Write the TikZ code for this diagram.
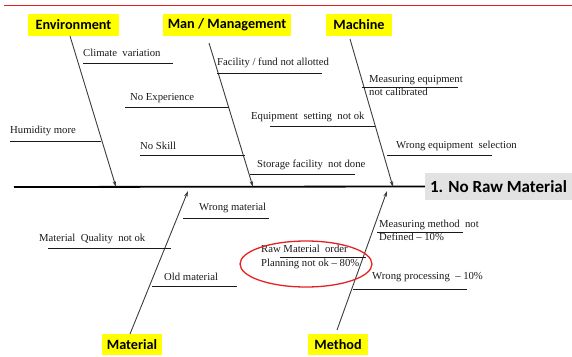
\documentclass[tikz,border=0pt]{standalone}
\usepackage{fontspec}
\setmainfont{Liberation Serif}
\newfontfamily\headfont{Carlito}
\usetikzlibrary{arrows.meta}
\definecolor{hdryellow}{HTML}{FFFF00}
\definecolor{titlegray}{HTML}{E2E2E2}
\definecolor{redline}{HTML}{E52222}
\definecolor{ink}{HTML}{1A1A1A}
\begin{document}
\begin{tikzpicture}[x=1pt,y=-1pt,
  header/.style={fill=hdryellow, font=\headfont\bfseries\fontsize{14.2}{16}\selectfont,
    text=black, inner sep=0pt, minimum height=22pt},
  cause/.style={font=\fontsize{10.7}{13.5}\selectfont, text=ink, inner sep=0pt,
    anchor=west, align=left},
  bone/.style={draw=ink!85, line width=0.9pt, -{Stealth[length=6pt,width=3.5pt]}},
  twig/.style={draw=ink, line width=0.8pt},
]
\useasboundingbox (0,0) rectangle (572,356);

% top rule
\draw[redline, line width=1pt] (4,5) -- (572,5);

% category headers
\node[header, minimum width=91pt]  (env)  at (73.5,25)  {Environment};
\node[header, minimum width=128pt] (man)  at (227,25)   {Man / Management};
\node[header, minimum width=66pt]  (mach) at (359,25)   {Machine};
\node[header, minimum width=60pt, minimum height=21pt] (mat)  at (132,344.5) {Material};
\node[header, minimum width=60pt, minimum height=21pt] (meth) at (338,344.5) {Method};

% effect
\node[fill=titlegray, minimum width=147pt, minimum height=27pt, inner sep=0pt,
      font=\headfont\bfseries\fontsize{17}{19}\selectfont, text=black]
      (effect) at (498.5,186.5) {1. No Raw Material};

% spine
\coordinate (tail) at (14,187);
\draw[line width=1.8pt] (tail) -- (effect.west);

% bone end points
\coordinate (envTop)  at (70,36);   \coordinate (envTip)  at (116,187);
\coordinate (manTop)  at (209,43);  \coordinate (manTip)  at (253,187);
\coordinate (machTop) at (350,39);  \coordinate (machTip) at (393,187);
\coordinate (matBot)  at (130,334); \coordinate (matTip)  at (188,191);
\coordinate (methBot) at (337,330); \coordinate (methTip) at (387,191);

\draw[bone] (envTop)  -- (envTip);
\draw[bone] (manTop)  -- (manTip);
\draw[bone] (machTop) -- (machTip);
\draw[bone] (matBot)  -- (matTip);
\draw[bone] (methBot) -- (methTip);

% Environment causes
\node[cause] (c1) at (83,53) {Climate\ \ variation};
\draw[twig] (83,63) -- (173,63);
\node[cause] (c2) at (10,131) {Humidity more};
\draw[twig] (10,141) -- (101,141);

% Man / Management causes
\node[cause] (c3) at (217,63) {Facility / fund not allotted};
\draw[twig] (217,73) -- (322,73);
\node[cause] (c4) at (130,98) {No Experience};
\draw[twig] (125,107) -- (229,107);
\node[cause] (c5) at (140,146) {No Skill};
\draw[twig] (140,155) -- (245,155);
\node[cause] (c6) at (251,117) {Equipment\ \ setting\ \ not ok};
\draw[twig] (270,126) -- (375,126);
\node[cause] (c7) at (257,165) {Storage facility\ \ not done};
\draw[twig] (250,174) -- (355,174);

% Machine causes
\node[cause] (c8) at (369,85.5) {Measuring equipment\\not calibrated};
\draw[twig] (362,87) -- (458,87);
\node[cause] (c9) at (396,146) {Wrong equipment\ \ selection};
\draw[twig] (387,155) -- (492,155);

% Material causes
\node[cause] (c10) at (199,208) {Wrong material};
\draw[twig] (183,218) -- (269,218);
\node[cause] (c11) at (39,239) {Material\ \ Quality\ \ not ok};
\draw[twig] (48,248) -- (171,248);
\node[cause] (c12) at (164,277) {Old material};
\draw[twig] (152,286) -- (237,286);

% Method causes
\node[cause] (c13) at (261,257) {Raw Material\ \ order\\Planning not ok -- 80\%};
\draw[twig] (280,257) -- (366,257);
\draw[redline, line width=1.3pt] (306,264) ellipse [x radius=66, y radius=23];
\node[cause] (c14) at (379,230.5) {Measuring method\ \ not\\Defined -- 10\%};
\draw[twig] (377,232) -- (463,232);
\node[cause] (c15) at (372,277) {Wrong processing\ \ -- 10\%};
\draw[twig] (353,289) -- (467,289);
\end{tikzpicture}
\end{document}
